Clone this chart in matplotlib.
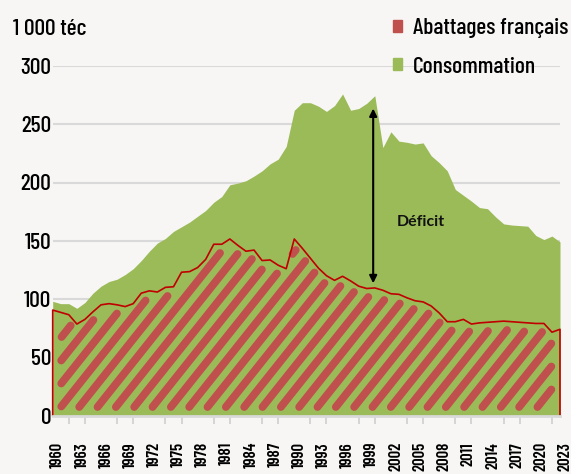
import numpy as np
import matplotlib
matplotlib.use('Agg')
import matplotlib.pyplot as plt
from matplotlib.patches import Patch
from matplotlib.transforms import ScaledTranslation

# Data (1 000 téc)
years = list(range(1960, 2024))
consommation = [
    98, 96, 96, 92, 97, 105, 111, 115, 117, 121,              # 1960-1969
    126, 133, 141, 148, 152, 158, 162, 166, 171, 176,         # 1970-1979
    183, 188, 198, 199.5, 201.5, 205.5, 210, 216, 220, 231,   # 1980-1989
    262, 268.5, 268.5, 265.5, 261, 266, 276, 262, 263.5, 268,  # 1990-1999
    274.5, 230, 243.5, 235.5, 234.5, 233, 234, 223, 217, 210,  # 2000-2009
    194, 189, 184, 178.5, 177.5, 170.5, 164.5, 163.5, 163, 162.5,  # 2010-2019
    154.5, 151, 154, 149,                                     # 2020-2023
]
abattages = [
    90.5, 88.5, 86.5, 78.5, 82.5, 89, 95, 96, 95, 93.5,       # 1960-1969
    96, 105, 107, 106, 110, 110.5, 123, 123.5, 127, 134,      # 1970-1979
    147, 147, 151.5, 146, 141, 142, 133, 133.5, 129, 126,     # 1980-1989
    151.5, 143.5, 135, 126.5, 120, 116, 119.5, 115.5, 111, 109,  # 1990-1999
    109.5, 107.5, 104.5, 104, 101, 98.5, 97.5, 94, 88, 80.5,  # 2000-2009
    80.5, 82.5, 78.5, 79.5, 80, 80.5, 81, 80.5, 80, 79.5,     # 2010-2019
    79, 79, 71.5, 74,                                         # 2020-2023
]
y_ticks = [0, 50, 100, 150, 200, 250, 300]
label_years = list(range(1960, 2024, 3))
deficit_year = 1999.8
deficit_range = (113.5, 263.5)

BG = '#f7f6f4'
GREEN = '#9bbb59'
RED = '#c0504d'
DARK_RED = '#c00000'
GRID = '#d9d9d9'
NARROW = ['Barlow Condensed', 'Roboto', 'DejaVu Sans']


def draw_stripes(ax, x, y):
    # rounded diagonal stripes inside the "abattages" area
    trans = ax.transData
    pts = trans.transform(np.column_stack([x, y]))
    px, py = pts[:, 0], pts[:, 1]
    x_left, y_base = trans.transform((x[0], 0))
    x_right, _ = trans.transform((x[-1], 0))

    inset = 8.5
    spacing = 18.33
    dxdy = 1 / np.tan(np.radians(51.5))
    t = np.arange(y_base, py.max(), 0.5)
    inv = trans.inverted()

    for c in np.arange(x_left + 19.75 - 40 * spacing, x_right + spacing, spacing):
        xs = c + dxdy * (t - y_base)
        top = np.interp(xs, px, py)
        ok = ((xs >= x_left + inset) & (xs <= x_right - inset)
              & (t >= y_base + inset) & (t <= top - inset))
        if not ok.any():
            continue
        idx = np.flatnonzero(ok)
        runs = np.split(idx, np.flatnonzero(np.diff(idx) > 1) + 1)
        for run in runs:
            if len(run) < 2:
                continue
            seg = inv.transform(np.column_stack([xs[run[[0, -1]]], t[run[[0, -1]]]]))
            ax.plot(seg[:, 0], seg[:, 1], color=RED, lw=5.6,
                    solid_capstyle='round', zorder=3)


def main():
    fig = plt.figure(figsize=(5.71, 4.74), dpi=100, facecolor=BG)
    ax = fig.add_axes([52.7 / 571, 58.5 / 474, 507.3 / 571, 349.5 / 474])
    ax.set_facecolor(BG)
    ax.set_xlim(1960, 2023)
    ax.set_ylim(0, 300)

    # Grid
    ax.set_axisbelow(True)
    ax.grid(axis='y', color=GRID, lw=1.5)

    # Areas
    ax.fill_between(years, consommation, 0, color=GREEN, lw=0, zorder=2)
    draw_stripes(ax, np.array(years), np.array(abattages))
    ax.plot([years[0]] + years + [years[-1]], [0] + abattages + [0],
            color=DARK_RED, lw=1.2, zorder=4, clip_on=False)

    # Deficit arrow
    ax.annotate('', xy=(deficit_year, deficit_range[1]),
                xytext=(deficit_year, deficit_range[0]),
                arrowprops=dict(arrowstyle='<|-|>', color='black', lw=1.5,
                                mutation_scale=11, shrinkA=0, shrinkB=0),
                zorder=5)
    ax.text(2005.7, 166, 'Déficit', ha='center', va='center',
            fontsize=11.5, fontweight='bold', family=['Lato', 'DejaVu Sans'],
            color='#111111', zorder=5)

    # Spines
    for side in ('left', 'right', 'top'):
        ax.spines[side].set_visible(False)
    ax.spines['bottom'].set_color(GRID)
    ax.spines['bottom'].set_linewidth(2)
    ax.spines['bottom'].set_zorder(6)

    # Y axis
    ax.set_yticks(y_ticks)
    ax.set_yticklabels([str(v) for v in y_ticks], fontsize=17, family=NARROW,
                       fontweight='medium')
    ax.tick_params(axis='y', length=0, pad=1)

    # X axis
    ax.set_xticks(label_years)
    ax.set_xticklabels([str(v) for v in label_years], rotation=90,
                       fontsize=12, family=NARROW, fontweight='semibold', va='top')
    ax.set_xticks(list(range(1960, 2024, 2)), minor=True)
    ax.tick_params(axis='x', which='major', length=0, pad=19)
    ax.tick_params(axis='x', which='minor', length=5.5, width=1.2,
                   color='#cfcfcf', direction='out')
    offset = ScaledTranslation(0.05, 0, fig.dpi_scale_trans)
    for lab in ax.get_xticklabels():
        lab.set_transform(lab.get_transform() + offset)

    # Unit and legend
    fig.text(13 / 571, 1 - 35 / 474, '1 000 téc', fontsize=17,
             family=NARROW, fontweight='medium', va='baseline')
    handles = [Patch(color=RED, label='Abattages français'),
               Patch(color=GREEN, label='Consommation')]
    fig.legend(handles=handles, loc='upper left',
               bbox_to_anchor=(393 / 571, 1 - 18 / 474),
               frameon=False,
               prop={'family': NARROW, 'size': 17, 'weight': 'medium'},
               handlelength=0.4, handleheight=0.4, handletextpad=0.45,
               labelspacing=0.8, borderpad=0, borderaxespad=0)

    fig.savefig('out.png', dpi=100, facecolor=BG)


if __name__ == '__main__':
    main()
